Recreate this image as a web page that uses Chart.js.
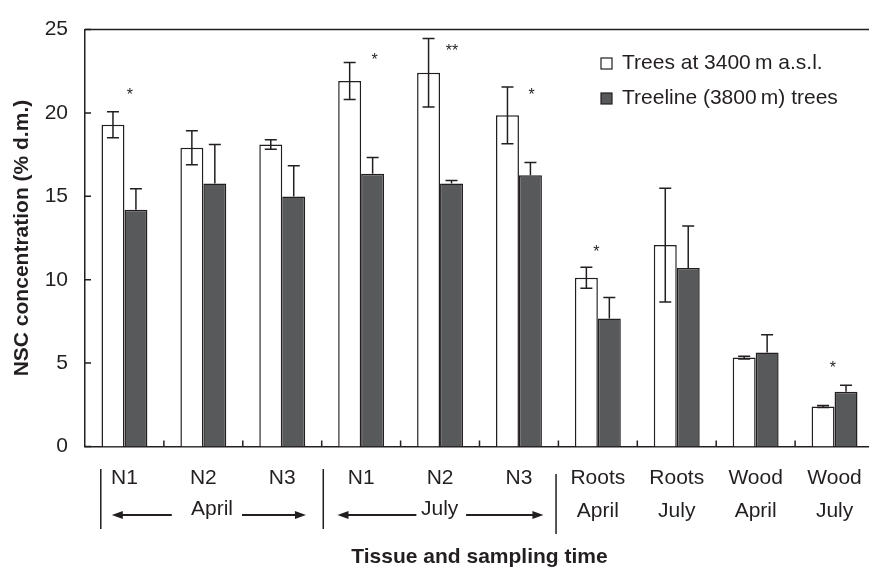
<!DOCTYPE html>
<html><head><meta charset="utf-8">
<script src="https://cdn.jsdelivr.net/npm/chart.js@4.4.1/dist/chart.umd.min.js"></script>
<style>html,body{margin:0;padding:0;background:#fff;overflow:hidden;width:869px;height:568px}
canvas{display:block}</style></head>
<body><canvas id="c" width="876" height="568" style="width:876px;height:568px"></canvas>
<script>
// ---- data ----
const categories = ['N1','N2','N3','N1','N2','N3','Roots','Roots','Wood','Wood'];
const subLabels = ['','','','','','','April','July','April','July'];
const periodSpans = [{label:'April', from:0, to:2}, {label:'July', from:3, to:5}];
const seriesNames = ['Trees at 3400\u2009m a.s.l.', 'Treeline (3800\u2009m) trees'];
const low3400 = [19.29, 17.91, 18.11, 21.92, 22.41, 19.86, 10.12, 12.08, 5.33, 2.40];
const low3400Err = [0.78, 1.02, 0.29, 1.11, 2.05, 1.70, 0.63, 3.41, 0.08, 0.06];
const treeline = [14.20, 15.77, 14.99, 16.36, 15.77, 16.27, 7.67, 10.71, 5.64, 3.29];
const treelineErr = [1.26, 2.34, 1.84, 0.97, 0.18, 0.76, 1.27, 2.51, 1.06, 0.39];
const sigText = ['*','','','*','**','*','*','','','*'];
const sigY = [21.0, null, null, 23.06, 23.6, 21.0, 11.57, null, null, 4.62];
const sigShift = [0.07, 0, 0, 0.17, 0.15, 0.16, -0.02, 0, 0, -0.02];
const yTicks = [0, 5, 10, 15, 20, 25];

const FONT = "'Liberation Sans', Arial, sans-serif";
const INK = '#231f20';
const DARK = '#58595b';

const decor = {
  id: 'decor',
  afterDatasetsDraw(chart) {
    const ctx = chart.ctx, y = chart.scales.y;
    ctx.save();
    ctx.strokeStyle = INK; ctx.lineWidth = 1.5;
    const cap = 6;
    [[0, low3400Err, true], [1, treelineErr, false]].forEach(([di, errs, both]) => {
      const meta = chart.getDatasetMeta(di);
      meta.data.forEach((bar, i) => {
        const v = chart.data.datasets[di].data[i];
        const e = errs[i];
        const yt = y.getPixelForValue(v + e);
        const yb = both ? y.getPixelForValue(v - e) : bar.y;
        ctx.beginPath();
        ctx.moveTo(bar.x, yt); ctx.lineTo(bar.x, yb);
        ctx.moveTo(bar.x - cap, yt); ctx.lineTo(bar.x + cap, yt);
        if (both) { ctx.moveTo(bar.x - cap, yb); ctx.lineTo(bar.x + cap, yb); }
        ctx.stroke();
      });
    });
    ctx.restore();
  },
  afterDraw(chart) {
    const ctx = chart.ctx, x = chart.scales.x, y = chart.scales.y, ca = chart.chartArea;
    const x0 = x.getPixelForValue(0), step = x.getPixelForValue(1) - x0;
    const px = v => x0 + v * step;
    ctx.save();
    ctx.strokeStyle = INK; ctx.fillStyle = INK; ctx.lineWidth = 1.5;
    // top frame line
    ctx.beginPath(); ctx.moveTo(ca.left, ca.top); ctx.lineTo(ca.right, ca.top); ctx.stroke();
    // inward y ticks
    ctx.beginPath();
    yTicks.forEach(v => { const yy = y.getPixelForValue(v); ctx.moveTo(ca.left, yy); ctx.lineTo(ca.left + 6, yy); });
    // inward x ticks at group boundaries
    for (let i = 0; i < categories.length - 1; i++) {
      const xx = px(i + 0.5); ctx.moveTo(xx, ca.bottom); ctx.lineTo(xx, ca.bottom - 6);
    }
    ctx.stroke();
    // asterisks
    ctx.font = '16px ' + FONT; ctx.textAlign = 'center'; ctx.textBaseline = 'middle';
    sigText.forEach((t, i) => {
      if (!t) return;
      ctx.fillText(t, px(i + sigShift[i]), y.getPixelForValue(sigY[i]) - 1);
    });
    // category labels
    ctx.font = '21px ' + FONT;
    categories.forEach((c, i) => ctx.fillText(c, px(i), 478));
    subLabels.forEach((c, i) => { if (c) ctx.fillText(c, px(i), 511); });
    // separators
    const seps = [-0.3, 2.52, 5.47];
    ctx.beginPath();
    seps.forEach((s, k) => {
      const xx = px(s); const yt = k === 2 ? 474 : 469;
      ctx.moveTo(xx, yt); ctx.lineTo(xx, yt + 60);
    });
    ctx.stroke();
    // period labels with arrows
    const arrowEnds = [[[0.6, -0.16], [1.49, 2.3]], [[3.7, 2.7], [4.33, 5.31]]];
    const arrow = (a, b, yy) => {
      const xa = px(a), xb = px(b), d = Math.sign(xb - xa);
      ctx.lineWidth = 1.8;
      ctx.beginPath(); ctx.moveTo(xa, yy); ctx.lineTo(xb - d * 8, yy); ctx.stroke();
      ctx.beginPath(); ctx.moveTo(xb, yy); ctx.lineTo(xb - d * 11, yy - 4); ctx.lineTo(xb - d * 11, yy + 4); ctx.closePath(); ctx.fill();
    };
    periodSpans.forEach((p, k) => {
      const cx = (px(seps[k]) + px(seps[k + 1])) / 2;
      ctx.fillText(p.label, cx, 509);
      arrowEnds[k].forEach(([a, b]) => arrow(a, b, 515));
    });
    // legend
    ctx.textAlign = 'left';
    const ds = chart.data.datasets;
    [[58, 63.5], [93, 98.5]].forEach(([by, ty], k) => {
      ctx.fillStyle = ds[k].backgroundColor;
      ctx.fillRect(601, by, 11, 11);
      ctx.lineWidth = 1.2; ctx.strokeRect(601, by, 11, 11);
      ctx.fillStyle = INK;
      ctx.fillText(seriesNames[k], 622, ty);
    });
    ctx.restore();
  }
};

new Chart(document.getElementById('c'), {
  type: 'bar',
  data: {
    labels: categories,
    datasets: [
      {label: seriesNames[0], data: low3400, backgroundColor: '#ffffff', borderColor: INK, borderWidth: 1.5},
      {label: seriesNames[1], data: treeline, backgroundColor: DARK, borderColor: INK, borderWidth: 1.5}
    ]
  },
  options: {
    responsive: false, animation: false, devicePixelRatio: 1,
    layout: {padding: {top: 22, right: 2, left: 0, bottom: 0}},
    datasets: {bar: {barPercentage: 1, categoryPercentage: 0.582}},
    plugins: {legend: {display: false}, tooltip: {enabled: false}},
    scales: {
      x: {
        grid: {display: false, drawTicks: false},
        border: {display: true, color: INK, width: 1.5},
        ticks: {display: false},
        title: {display: true, text: 'Tissue and sampling time', color: INK,
                font: {family: FONT, size: 21, weight: 'bold', lineHeight: 1}, padding: {top: 0, bottom: 0}},
        afterFit(s) { s.height = 121.5; }
      },
      y: {
        min: 0, max: 25,
        afterBuildTicks(s) { s.ticks = yTicks.map(v => ({value: v})); },
        ticks: {font: {family: FONT, size: 21}, color: INK, padding: 17},
        grid: {display: false, drawTicks: false},
        border: {display: true, color: INK, width: 1.5},
        title: {display: true, text: 'NSC concentration (% d.m.)', color: INK,
                font: {family: FONT, size: 21, weight: 'bold'}, padding: {top: 10, bottom: 0}},
        afterFit(s) { s.width = 85; }
      }
    }
  },
  plugins: [decor]
});
</script>
</body></html>
